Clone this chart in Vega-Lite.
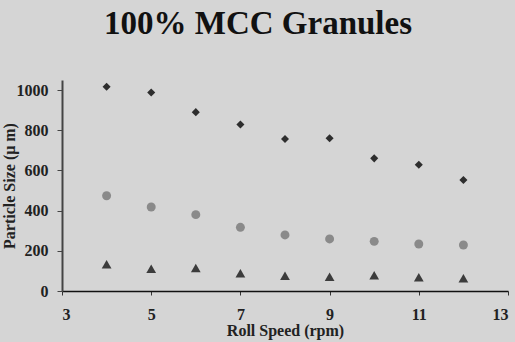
{
  "$schema": "https://vega.github.io/schema/vega-lite/v6.json",
  "width": 446,
  "height": 211,
  "autosize": "none",
  "padding": {"left": 62, "top": 80, "right": 7, "bottom": 51},
  "background": "#d5d5d5",
  "config": {"view": {"stroke": null}, "font": "Liberation Serif"},
  "title": {"text": "100% MCC Granules", "font": "Liberation Serif", "fontSize": 33, "fontWeight": "bold", "color": "#111", "anchor": "middle", "dx": -27, "offset": 39},
  "data": {"values": [
    {"speed": 4, "size": 1016, "series": "A"},
    {"speed": 5, "size": 988, "series": "A"},
    {"speed": 6, "size": 890, "series": "A"},
    {"speed": 7, "size": 829, "series": "A"},
    {"speed": 8, "size": 756, "series": "A"},
    {"speed": 9, "size": 760, "series": "A"},
    {"speed": 10, "size": 660, "series": "A"},
    {"speed": 11, "size": 628, "series": "A"},
    {"speed": 12, "size": 552, "series": "A"},
    {"speed": 4, "size": 474, "series": "B"},
    {"speed": 5, "size": 418, "series": "B"},
    {"speed": 6, "size": 380, "series": "B"},
    {"speed": 7, "size": 317, "series": "B"},
    {"speed": 8, "size": 279, "series": "B"},
    {"speed": 9, "size": 259, "series": "B"},
    {"speed": 10, "size": 247, "series": "B"},
    {"speed": 11, "size": 234, "series": "B"},
    {"speed": 12, "size": 229, "series": "B"},
    {"speed": 4, "size": 133, "series": "C"},
    {"speed": 5, "size": 111, "series": "C"},
    {"speed": 6, "size": 114, "series": "C"},
    {"speed": 7, "size": 88, "series": "C"},
    {"speed": 8, "size": 76, "series": "C"},
    {"speed": 9, "size": 71, "series": "C"},
    {"speed": 10, "size": 78, "series": "C"},
    {"speed": 11, "size": 68, "series": "C"},
    {"speed": 12, "size": 63, "series": "C"}
  ]},
  "mark": {"type": "point", "filled": true, "opacity": 1},
  "encoding": {
    "x": {"field": "speed", "type": "quantitative", "scale": {"domain": [3, 13], "nice": false, "zero": false},
      "axis": {"title": "Roll Speed (rpm)", "values": [3, 5, 7, 9, 11, 13], "format": "d", "grid": false, "domainColor": "#111", "domainWidth": 1.5, "tickColor": "#333", "tickSize": 4, "labelFont": "Liberation Serif", "labelFontSize": 16, "labelFontWeight": "bold", "labelColor": "#222", "labelPadding": 11, "titleFont": "Liberation Serif", "titleFontSize": 16, "titleFontWeight": "bold", "titleColor": "#222", "titlePadding": 0}},
    "y": {"field": "size", "type": "quantitative", "scale": {"domain": [0, 1050], "nice": false},
      "axis": {"title": "Particle Size (μ m)", "values": [0, 200, 400, 600, 800, 1000], "format": "d", "grid": false, "domainColor": "#444", "domainWidth": 2, "tickColor": "#444", "tickSize": 5, "labelFont": "Liberation Serif", "labelFontSize": 16, "labelFontWeight": "bold", "labelColor": "#222", "labelPadding": 9, "titleFont": "Liberation Serif", "titleFontSize": 16, "titleFontWeight": "bold", "titleColor": "#222", "titleX": -45}},
    "shape": {"field": "series", "type": "nominal", "scale": {"domain": ["A", "B", "C"], "range": ["diamond", "circle", "triangle-up"]}, "legend": null},
    "color": {"field": "series", "type": "nominal", "scale": {"domain": ["A", "B", "C"], "range": ["#2e2e2e", "#8a8a8a", "#3c3c3c"]}, "legend": null},
    "size": {"field": "series", "type": "nominal", "scale": {"domain": ["A", "B", "C"], "range": [65, 95, 85]}, "legend": null}
  }
}
